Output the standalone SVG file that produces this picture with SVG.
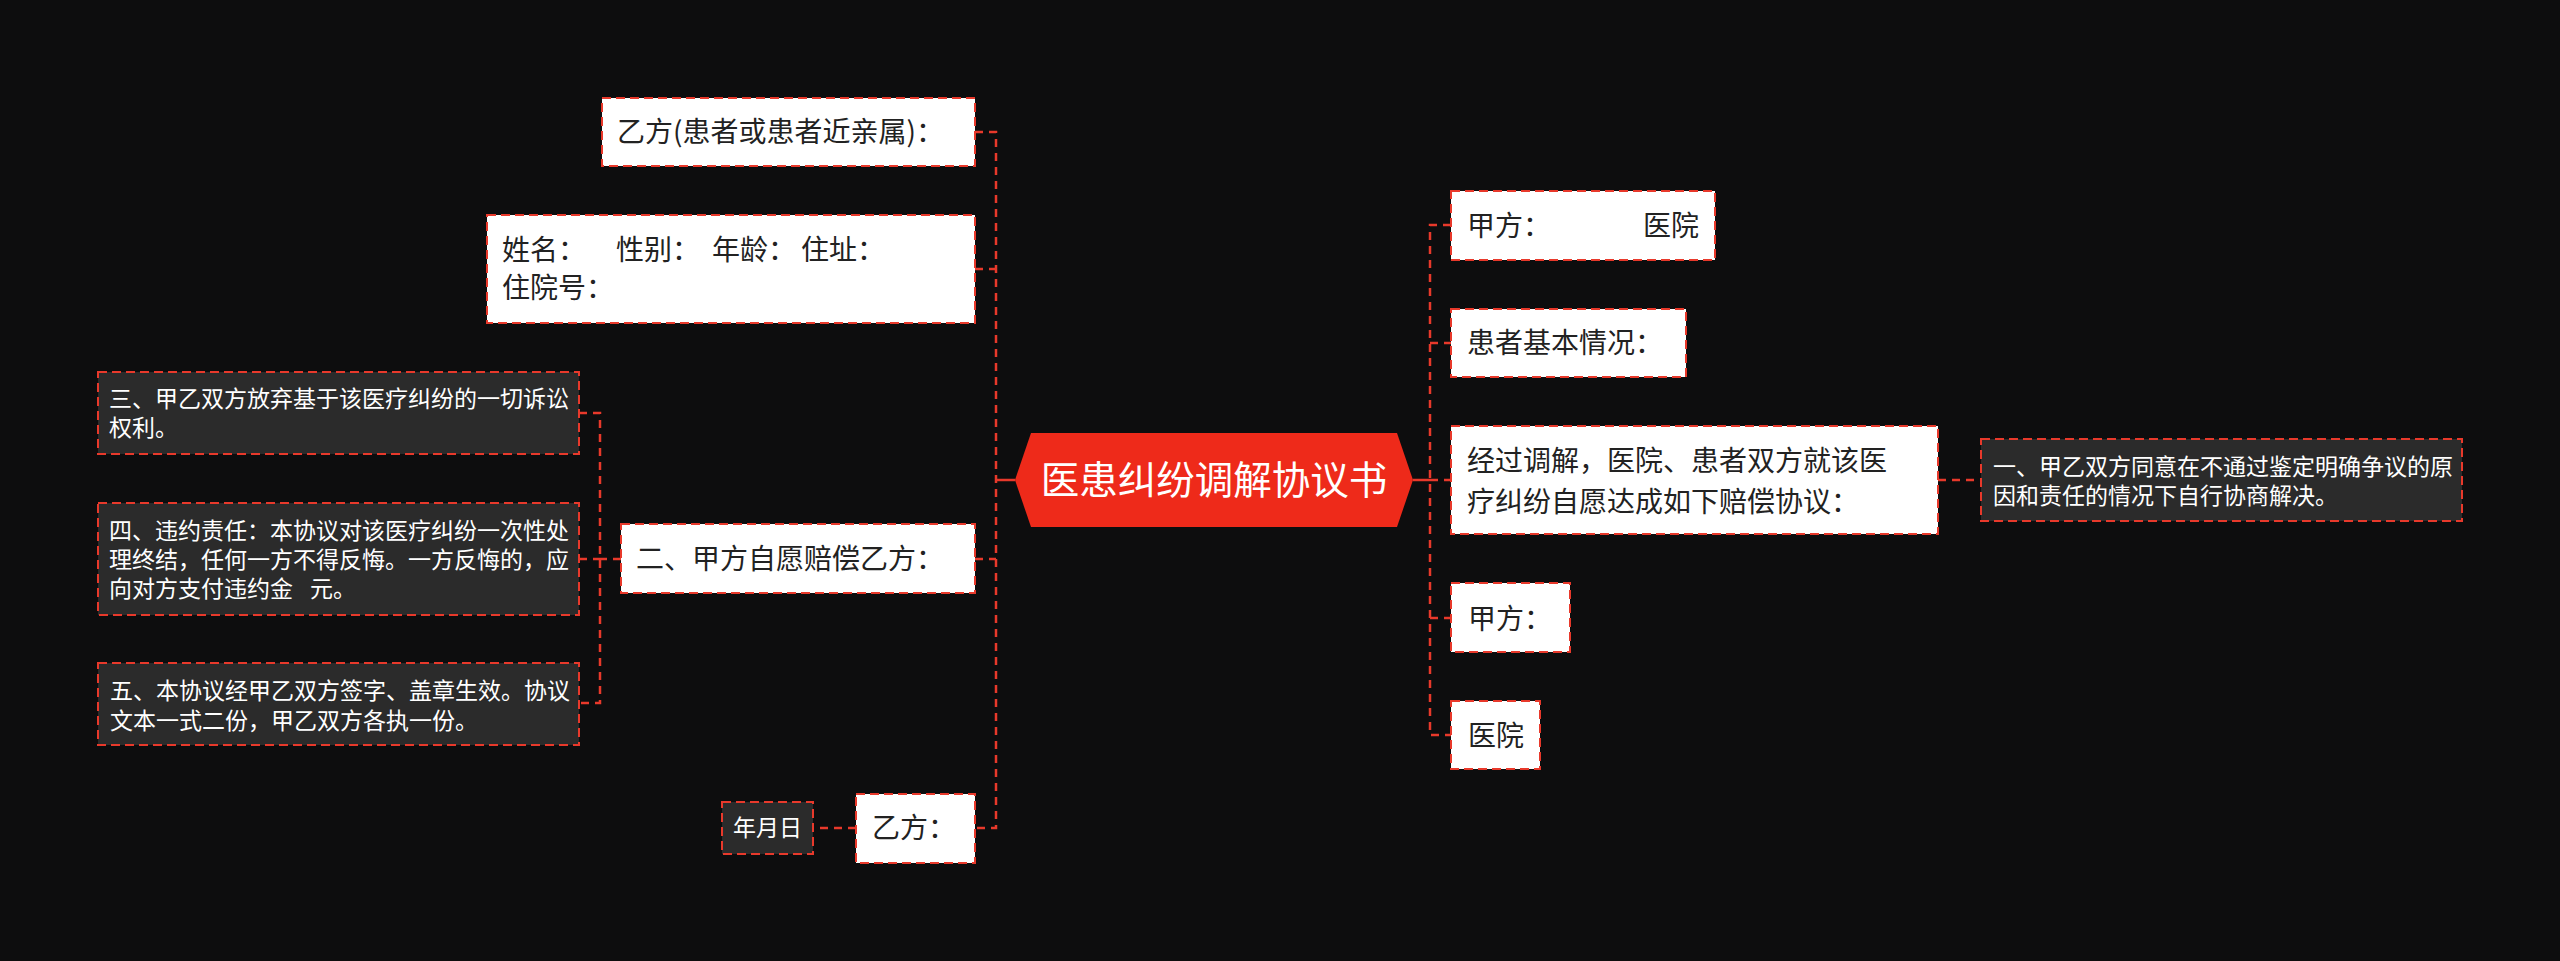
<svg xmlns="http://www.w3.org/2000/svg" width="2560" height="961" viewBox="0 0 2560 961">
<style>
text{font-family:"Noto Sans CJK SC","Noto Sans",sans-serif;}
.w rect{fill:#ffffff;stroke:#e8392b;stroke-width:2;stroke-dasharray:9 5;}
.w text{fill:#222222;font-size:28px;}
.d rect{fill:#2b2b2b;stroke:#e8392b;stroke-width:2;stroke-dasharray:9 5;}
.d text{fill:#ffffff;font-size:23px;}
.c{fill:none;stroke:#e8392b;stroke-width:2.5;stroke-dasharray:8 6;}
.s{fill:none;stroke:#e8392b;stroke-width:2.5;}
</style>
<rect width="2560" height="961" fill="#0d0d0e"/>
<g id="connectors">
<path class="s" d="M996 480H1015"/>
<path class="s" d="M1413 480H1430"/>
<path class="c" d="M975 132H996V828H975"/>
<path class="c" d="M975 269H996"/>
<path class="c" d="M975 559H996"/>
<path class="c" d="M621 559H600"/>
<path class="c" d="M579 413H600V703H579"/>
<path class="c" d="M579 559H600"/>
<path class="c" d="M856 828H813"/>
<path class="c" d="M1451 225H1430V735H1451"/>
<path class="c" d="M1430 343H1451"/>
<path class="c" d="M1430 480H1451"/>
<path class="c" d="M1430 618H1451"/>
<path class="c" d="M1938 480H1981"/>
</g>
<g id="center">
<polygon points="1015,480 1031,433 1397,433 1413,480 1397,527 1031,527" fill="#ee2a1a"/>
<text x="1214" y="494" text-anchor="middle" fill="#ffffff" font-size="38.5">医患纠纷调解协议书</text>
</g>
<g id="n-yifang-title" class="w">
<rect x="602" y="98" width="373" height="68"/>
<text x="617" y="142">乙方(患者或患者近亲属)：</text>
</g>
<g id="n-xingming" class="w">
<rect x="487" y="215" width="488" height="108"/>
<text y="260"><tspan x="502">姓名：</tspan><tspan x="616">性别：</tspan><tspan x="712">年龄：</tspan><tspan x="801">住址：</tspan></text>
<text x="502" y="298">住院号：</text>
</g>
<g id="n-er" class="w">
<rect x="621" y="524" width="354" height="69"/>
<text x="636" y="569">二、甲方自愿赔偿乙方：</text>
</g>
<g id="n-san" class="d">
<rect x="98" y="372" width="481" height="82"/>
<text x="109" y="407">三、甲乙双方放弃基于该医疗纠纷的一切诉讼</text>
<text x="109" y="436">权利。</text>
</g>
<g id="n-si" class="d">
<rect x="98" y="503" width="481" height="112"/>
<text x="109" y="539">四、违约责任：本协议对该医疗纠纷一次性处</text>
<text x="109" y="568">理终结，任何一方不得反悔。一方反悔的，应</text>
<text y="597"><tspan x="109">向对方支付违约金</tspan><tspan x="310">元。</tspan></text>
</g>
<g id="n-wu" class="d">
<rect x="98" y="663" width="481" height="82"/>
<text x="110" y="699">五、本协议经甲乙双方签字、盖章生效。协议</text>
<text x="110" y="729">文本一式二份，甲乙双方各执一份。</text>
</g>
<g id="n-yifang" class="w">
<rect x="856" y="794" width="119" height="69"/>
<text x="872" y="838">乙方：</text>
</g>
<g id="n-date" class="d">
<rect x="722" y="802" width="91" height="52"/>
<text x="733" y="836">年月日</text>
</g>
<g id="n-jiafang-hosp" class="w">
<rect x="1451" y="191" width="264" height="69"/>
<text y="236"><tspan x="1467">甲方：</tspan><tspan x="1643">医院</tspan></text>
</g>
<g id="n-patient" class="w">
<rect x="1451" y="309" width="235" height="68"/>
<text x="1467" y="353">患者基本情况：</text>
</g>
<g id="n-mediation" class="w">
<rect x="1451" y="426" width="487" height="108"/>
<text x="1467" y="471">经过调解，医院、患者双方就该医</text>
<text x="1467" y="512">疗纠纷自愿达成如下赔偿协议：</text>
</g>
<g id="n-yi" class="d">
<rect x="1981" y="439" width="481" height="82"/>
<text x="1993" y="475">一、甲乙双方同意在不通过鉴定明确争议的原</text>
<text x="1993" y="504">因和责任的情况下自行协商解决。</text>
</g>
<g id="n-jiafang" class="w">
<rect x="1451" y="583" width="119" height="69"/>
<text x="1468" y="629">甲方：</text>
</g>
<g id="n-hospital" class="w">
<rect x="1451" y="701" width="89" height="68"/>
<text x="1468" y="746">医院</text>
</g>
</svg>
